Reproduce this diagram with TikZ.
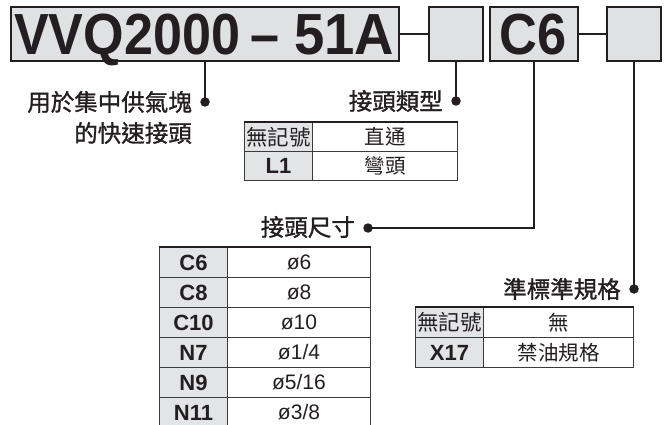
\documentclass[tikz,border=0pt]{standalone}
\usepackage{fontspec}
\usepackage{graphicx}
\setmainfont{Liberation Sans}
\newfontfamily\cjk{Noto Sans CJK TC}
\newfontfamily\cjkb[FakeBold=1.2]{Noto Sans CJK TC}
\definecolor{boxgray}{RGB}{224,225,227}
\definecolor{cellgray}{RGB}{227,228,230}
\definecolor{ink}{RGB}{35,31,32}
\definecolor{linegray}{RGB}{60,58,58}
\begin{document}
\begin{tikzpicture}[x=1pt,y=-1pt,
  every node/.style={text=ink},
  box/.style={draw=ink, line width=2pt, fill=boxgray, inner sep=0pt, minimum height=54pt, anchor=north west},
  ttl/.style={inner sep=0pt, anchor=base west, font=\fontsize{58}{58}\selectfont\bfseries},
  conn/.style={draw=ink, line width=2pt},
  dot/.style={circle, fill=ink, inner sep=0pt, minimum size=9.5pt},
  lab/.style={font=\cjkb\fontsize{23.5}{31}\selectfont, inner sep=0pt, anchor=east},
  keycell/.style={draw=linegray, line width=1pt, fill=cellgray, inner sep=0pt, anchor=north west, minimum width=68pt},
  valcell/.style={draw=linegray, line width=1pt, fill=white, inner sep=0pt, anchor=north west},
  keyl/.style={keycell, font=\fontsize{22}{22}\selectfont\bfseries},
  keyc/.style={keycell, font=\cjk\fontsize{21.5}{21.5}\selectfont},
  vall/.style={valcell, font=\fontsize{21}{21}\selectfont},
  valc/.style={valcell, font=\cjk\fontsize{20.5}{20.5}\selectfont},
  topline/.style={draw=ink, line width=2pt}
]
\useasboundingbox (0,0) rectangle (669,425);

% top boxes
\node[box, minimum width=388pt] (b1) at (10,6) {};
\node[box, minimum width=54pt] (b2) at (428,6) {};
\node[box, minimum width=88pt] (b3) at (489,6) {};
\node[box, minimum width=54pt] (b4) at (606,6) {};
\node[ttl] (tA) at (14,55) {\resizebox{226pt}{\height}{VVQ2000}};
\node[ttl] (tB) at (250,55) {\resizebox{29pt}{\height}{–}};
\node[ttl] (tC) at (294,55) {\resizebox{100pt}{\height}{51A}};
\node[ttl] (tD) at (499,55) {\resizebox{67pt}{\height}{C6}};
\draw[conn] (b1.east) -- (b2.west);
\draw[conn] (b3.east) -- (b4.west);

% dots
\node[dot] (d1) at (b1.south |- 0,102) {};
\node[dot] (d2) at (b2.south |- 0,101) {};
\node[dot] (d3) at (368,228) {};
\node[dot] (d4) at (b4.south |- 0,289) {};
\draw[conn] (b1.south) -- (d1.center);
\draw[conn] (b2.south) -- (d2.center);
\draw[conn] (b3.south) |- (d3.center);
\draw[conn] (b4.south) -- (d4.center);

% labels
\node[lab, align=right] (l1) at (192,117.5) {用於集中供氣塊\\的快速接頭};
\node[lab] (l2) at (443,101) {接頭類型};
\node[lab] (l3) at (355,227) {接頭尺寸};
\node[lab] (l4) at (621,289) {準標準規格};

% table 1
\node[keyc, minimum height=29pt] (t1k1) at (244,122) {無記號};
\node[valc, minimum height=29pt, minimum width=145pt] (t1v1) at (312,122) {直通};
\node[keyl, minimum height=29pt] (t1k2) at (244,151) {L1};
\node[valc, minimum height=29pt, minimum width=145pt] (t1v2) at (312,151) {彎頭};
\draw[topline] (t1k1.north west) -- (t1v1.north east);

% table 2
\node[keyl, minimum height=30pt] (t2k1) at (159,247) {C6};
\node[vall, minimum height=30pt, minimum width=143pt] (t2v1) at (227,247) {ø6};
\node[keyl, minimum height=30pt] (t2k2) at (159,277) {C8};
\node[vall, minimum height=30pt, minimum width=143pt] (t2v2) at (227,277) {ø8};
\node[keyl, minimum height=30pt] (t2k3) at (159,307) {C10};
\node[vall, minimum height=30pt, minimum width=143pt] (t2v3) at (227,307) {ø10};
\node[keyl, minimum height=30pt] (t2k4) at (159,337) {N7};
\node[vall, minimum height=30pt, minimum width=143pt] (t2v4) at (227,337) {ø1/4};
\node[keyl, minimum height=30pt] (t2k5) at (159,367) {N9};
\node[vall, minimum height=30pt, minimum width=143pt] (t2v5) at (227,367) {ø5/16};
\node[keyl, minimum height=30pt] (t2k6) at (159,397) {N11};
\node[vall, minimum height=30pt, minimum width=143pt] (t2v6) at (227,397) {ø3/8};
\draw[topline] (t2k1.north west) -- (t2v1.north east);

% table 3
\node[keyc, minimum height=30pt] (t3k1) at (415,307) {無記號};
\node[valc, minimum height=30pt, minimum width=150pt] (t3v1) at (483,307) {無};
\node[keyl, minimum height=30pt] (t3k2) at (415,337) {X17};
\node[valc, minimum height=30pt, minimum width=150pt] (t3v2) at (483,337) {禁油規格};
\draw[topline] (t3k1.north west) -- (t3v1.north east);
\end{tikzpicture}
\end{document}
